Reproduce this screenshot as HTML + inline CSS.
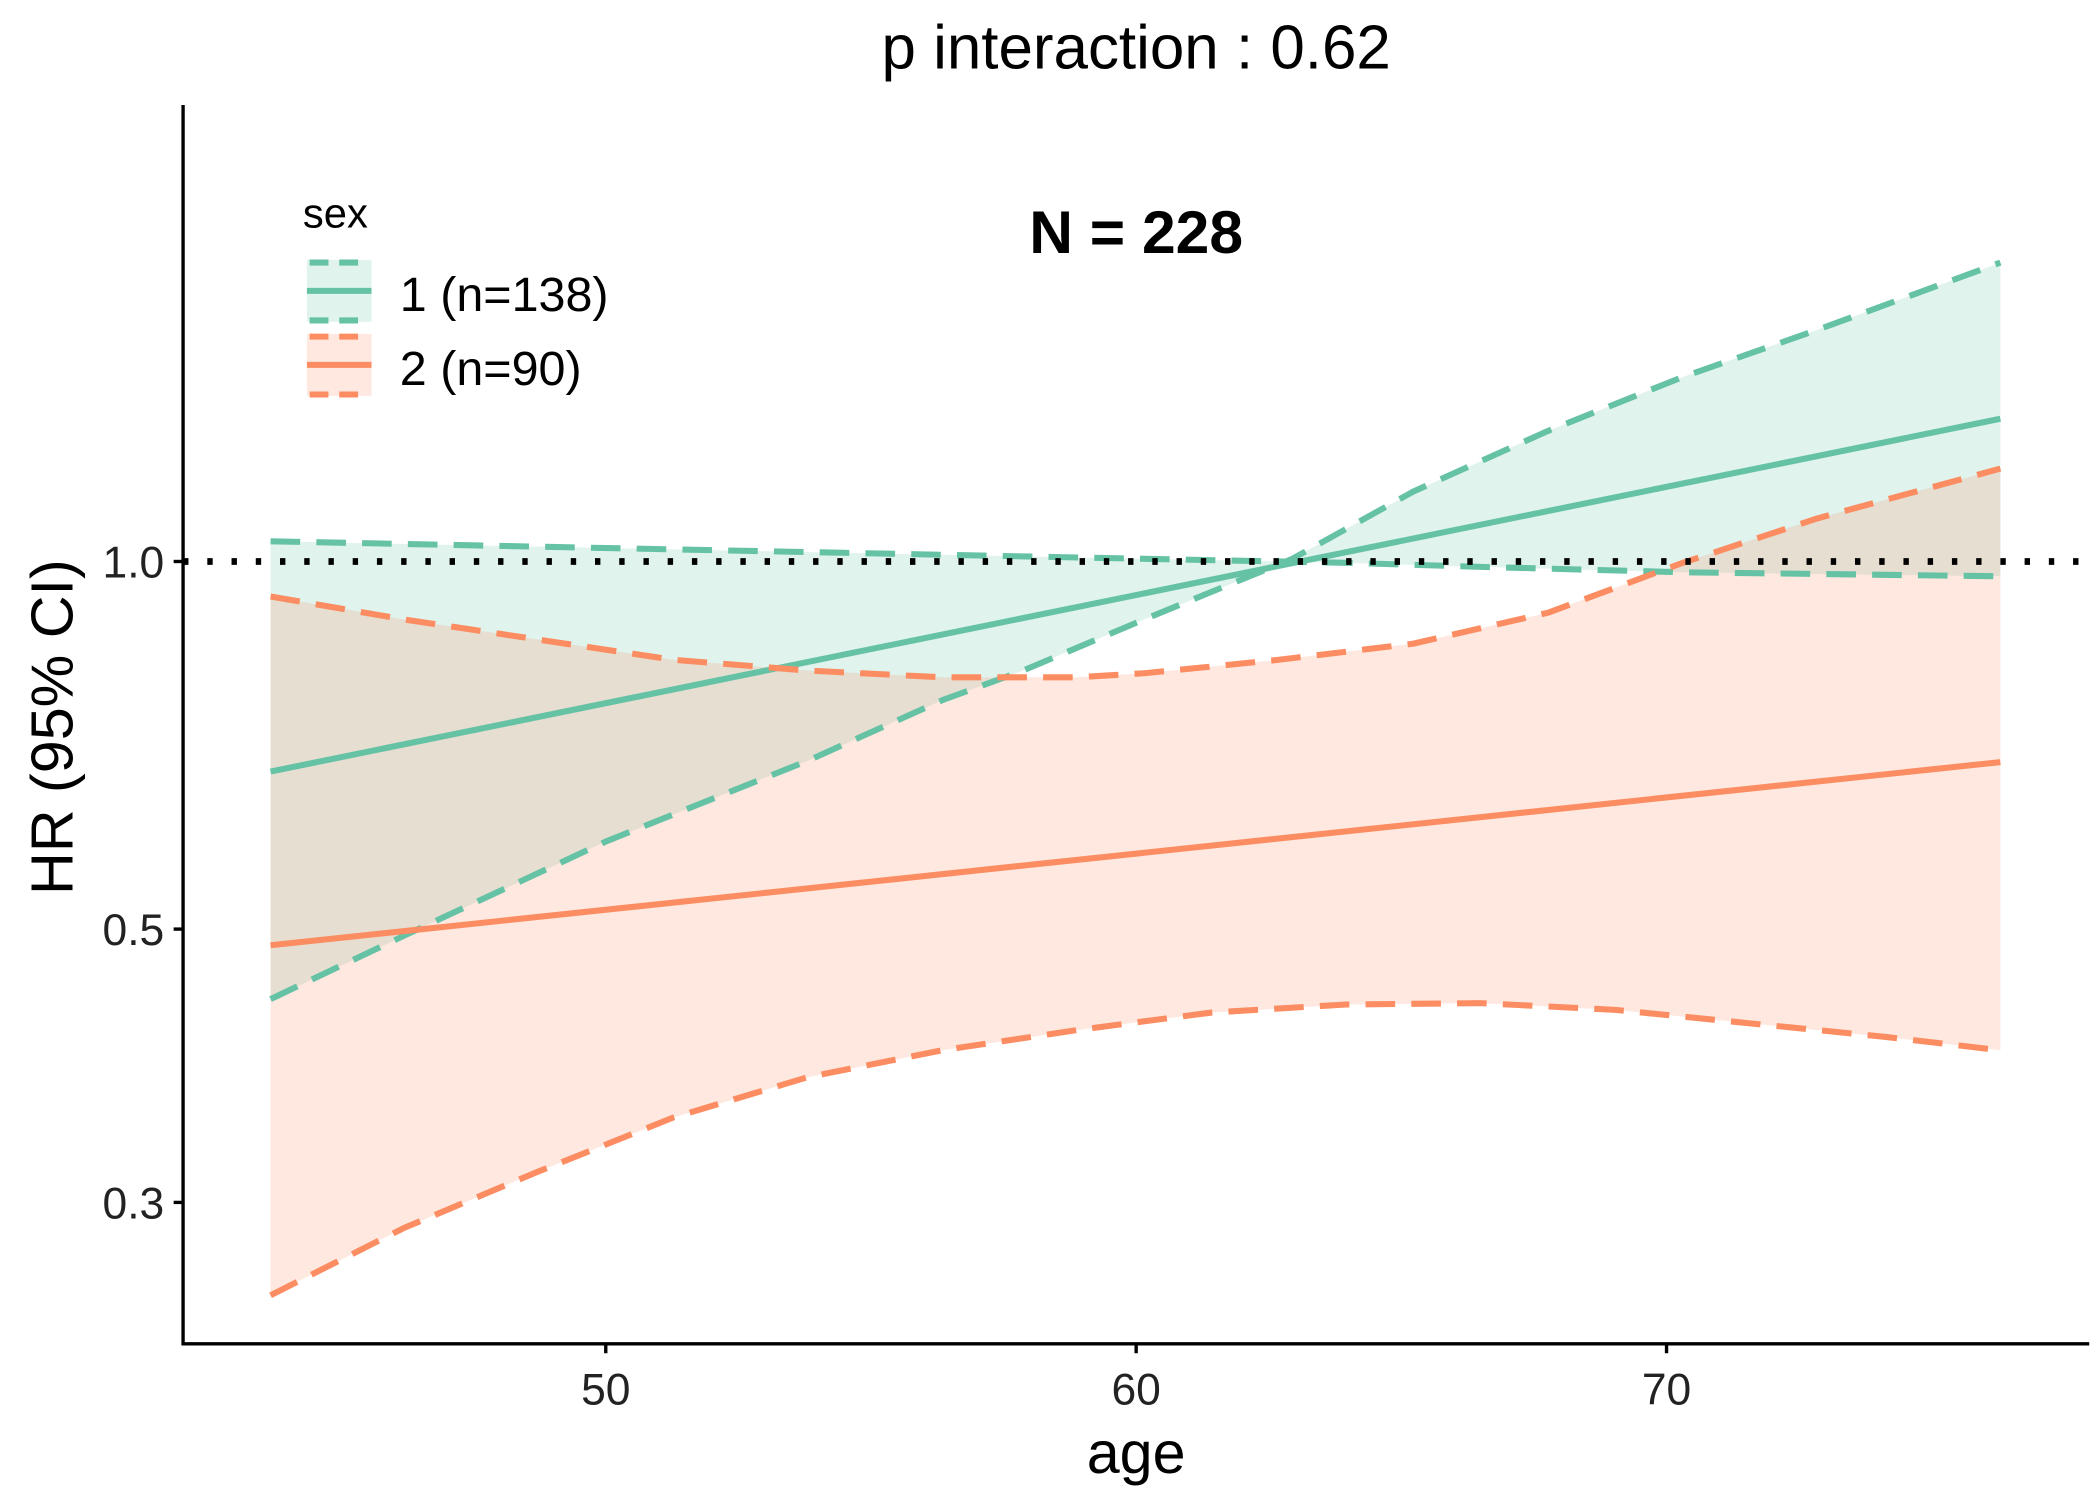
<!DOCTYPE html>
<html><head><style>html,body{margin:0;padding:0;background:#fff}svg{display:block}</style></head>
<body>
<svg width="2100" height="1500" viewBox="0 0 1560 1114" preserveAspectRatio="none" xmlns="http://www.w3.org/2000/svg" font-family="Liberation Sans, sans-serif">
<rect width="1560" height="1114" fill="#fff"/>
<path d="M201,402 L600,410 L850,415 L1000,418 L1100,421 L1250,425 L1486,428 L1486,195 L1350,245 L1250,280 L1150,320 L1050,365 L960,415 L850,460 L760,498 L700,520 L600,565 L450,625 L300,695 L201,742 Z" fill="#66C2A5" fill-opacity="0.2"/>
<path d="M201,443 L300,460 L400,475 L500,490 L600,498 L700,503 L800,503 L850,500 L950,490 L1050,478 L1150,455 L1250,418 L1350,385 L1486,348 L1486,780 L1400,770 L1300,760 L1200,750 L1100,745 L1000,746 L900,752 L800,765 L700,780 L600,800 L500,830 L400,870 L300,912 L201,962 Z" fill="#FC8D62" fill-opacity="0.2"/>
<g fill="none" stroke-width="4.5">
<polyline stroke="#66C2A5" stroke-dasharray="22,12" points="201,402 600,410 850,415 1000,418 1100,421 1250,425 1486,428"/>
<polyline stroke="#66C2A5" stroke-dasharray="22,12" points="201,742 300,695 450,625 600,565 700,520 760,498 850,460 960,415 1050,365 1150,320 1250,280 1350,245 1486,195"/>
<line stroke="#66C2A5" x1="201" y1="573" x2="1486" y2="311"/>
<polyline stroke="#FC8D62" stroke-dasharray="22,12" points="201,443 300,460 400,475 500,490 600,498 700,503 800,503 850,500 950,490 1050,478 1150,455 1250,418 1350,385 1486,348"/>
<polyline stroke="#FC8D62" stroke-dasharray="22,12" points="201,962 300,912 400,870 500,830 600,800 700,780 800,765 900,752 1000,746 1100,745 1200,750 1300,760 1400,770 1486,780"/>
<line stroke="#FC8D62" x1="201" y1="702" x2="1486" y2="566"/>
</g>
<line x1="136" y1="417" x2="1552" y2="417" stroke="#000" stroke-width="5" stroke-dasharray="4,14"/>
<path d="M136,78 L136,998 L1552,998" fill="none" stroke="#000" stroke-width="2.5"/>
<g stroke="#000" stroke-width="2.5">
<line x1="129" y1="417" x2="136" y2="417"/><line x1="129" y1="690" x2="136" y2="690"/><line x1="129" y1="893" x2="136" y2="893"/>
<line x1="450" y1="998" x2="450" y2="1005"/><line x1="844" y1="998" x2="844" y2="1005"/><line x1="1238" y1="998" x2="1238" y2="1005"/>
</g>
<g font-size="33" fill="#222" text-anchor="end">
<text x="122" y="429">1.0</text><text x="122" y="702">0.5</text><text x="122" y="905">0.3</text>
</g>
<g font-size="33" fill="#222" text-anchor="middle">
<text x="450" y="1043">50</text><text x="844" y="1043">60</text><text x="1238" y="1043">70</text>
</g>
<text x="844" y="1094" font-size="44" text-anchor="middle">age</text>
<text transform="translate(54,540) rotate(-90)" font-size="44" text-anchor="middle">HR (95% CI)</text>
<text x="844" y="51" font-size="46" text-anchor="middle">p interaction : 0.62</text>
<text x="844" y="188" font-size="45" font-weight="bold" text-anchor="middle">N = 228</text>
<text x="225" y="169" font-size="31">sex</text>
<rect x="228" y="193" width="48" height="46" fill="#66C2A5" fill-opacity="0.2"/>
<path d="M230,195 L274,195 M230,238 L274,238" stroke="#66C2A5" stroke-width="4.5" stroke-dasharray="14,8"/>
<line x1="228" y1="216" x2="276" y2="216" stroke="#66C2A5" stroke-width="4.5"/>
<rect x="228" y="248" width="48" height="46" fill="#FC8D62" fill-opacity="0.2"/>
<path d="M230,250 L274,250 M230,293 L274,293" stroke="#FC8D62" stroke-width="4.5" stroke-dasharray="14,8"/>
<line x1="228" y1="271" x2="276" y2="271" stroke="#FC8D62" stroke-width="4.5"/>
<text x="297" y="231" font-size="36">1 (n=138)</text>
<text x="297" y="286" font-size="36">2 (n=90)</text>
</svg>
</body></html>
